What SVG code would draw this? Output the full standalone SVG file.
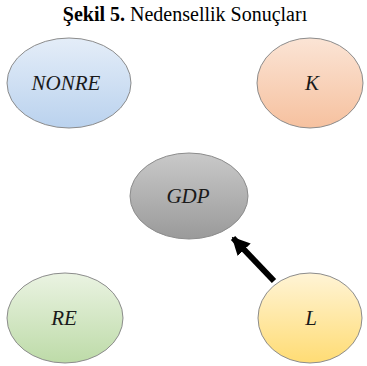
<svg xmlns="http://www.w3.org/2000/svg" width="367" height="366" viewBox="0 0 367 366">
<defs>
<linearGradient id="gBlue" x1="0" y1="0" x2="0" y2="1"><stop offset="0" stop-color="#e4edf8"/><stop offset="1" stop-color="#bad2ee"/></linearGradient>
<linearGradient id="gOrange" x1="0" y1="0" x2="0" y2="1"><stop offset="0" stop-color="#fbe4d5"/><stop offset="1" stop-color="#f6c19f"/></linearGradient>
<linearGradient id="gGray" x1="0" y1="0" x2="0" y2="1"><stop offset="0" stop-color="#c9c9c9"/><stop offset="1" stop-color="#9a9a9a"/></linearGradient>
<linearGradient id="gGreen" x1="0" y1="0" x2="0" y2="1"><stop offset="0" stop-color="#eaf3e2"/><stop offset="1" stop-color="#bddba8"/></linearGradient>
<linearGradient id="gYellow" x1="0" y1="0" x2="0" y2="1"><stop offset="0" stop-color="#fff4d6"/><stop offset="1" stop-color="#ffdc74"/></linearGradient>
<marker id="ah" viewBox="0 0 10 10" refX="9" refY="5" markerWidth="3" markerHeight="3" orient="auto" markerUnits="strokeWidth"><path d="M0,0 L10,5 L0,10 z" fill="#000"/></marker>
</defs>
<style>
.node ellipse{stroke:#8c8c8c;stroke-width:1}
.node text{font-family:'Liberation Serif',serif;font-style:italic;font-size:21px;fill:#1a1a1a;text-anchor:middle}
.title{font-family:'Liberation Serif',serif;font-size:20px;fill:#000;text-anchor:middle}
</style>
<rect width="367" height="366" fill="#fff"/>
<text class="title" x="185" y="21"><tspan font-weight="bold">Şekil 5.</tspan> Nedensellik Sonuçları</text>
<g id="NONRE" class="node"><ellipse cx="69" cy="83" rx="62" ry="45" fill="url(#gBlue)"/><text x="66" y="90">NONRE</text></g>
<g id="K" class="node"><ellipse cx="310" cy="83" rx="53" ry="45" fill="url(#gOrange)"/><text x="312" y="90">K</text></g>
<g id="GDP" class="node"><ellipse cx="189" cy="196" rx="59" ry="43" fill="url(#gGray)"/><text x="188" y="203">GDP</text></g>
<g id="RE" class="node"><ellipse cx="65" cy="318" rx="58" ry="45" fill="url(#gGreen)"/><text x="64" y="325">RE</text></g>
<g id="L" class="node"><ellipse cx="310" cy="318" rx="52" ry="45" fill="url(#gYellow)"/><text x="311" y="325">L</text></g>
<g id="connectors"><line x1="274" y1="281" x2="233" y2="238" stroke="#000" stroke-width="6" marker-end="url(#ah)"/></g>
</svg>
